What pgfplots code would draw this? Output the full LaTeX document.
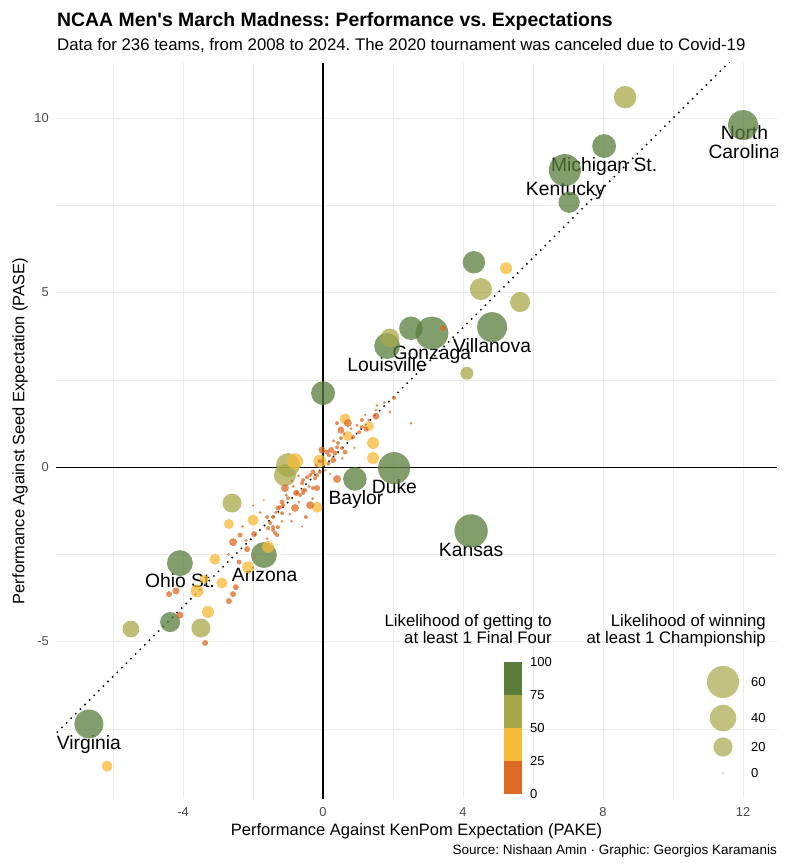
\documentclass[border=0pt]{standalone}
\usepackage{pgfplots}
\pgfplotsset{compat=1.18}
\usepackage{pgfplotstable}
\usepackage{fontspec}
\setmainfont{Liberation Sans}
\frenchspacing
\definecolor{cgreen}{HTML}{5A7D3C}
\definecolor{colive}{HTML}{A8A84A}
\definecolor{cyellow}{HTML}{F5BA36}
\definecolor{corange}{HTML}{DC6A24}
\definecolor{gridc}{HTML}{EBEBEB}
\definecolor{tickc}{HTML}{4D4D4D}

\pgfplotstableread{
x y p
12.00 9.80 52
6.91 8.51 60
8.03 9.20 32
7.03 7.59 25
4.31 5.87 28
4.83 4.01 52
2.51 3.98 31
3.11 3.84 63
1.83 3.47 38
0.00 2.12 32
2.03 -0.03 60
0.91 -0.34 31
4.23 -1.83 65
-1.69 -2.52 38
-4.09 -2.75 38
-4.37 -4.44 22
-6.69 -7.36 48
}\greendata

\pgfplotstableread{
x y p
8.63 10.60 28
4.51 5.10 27
5.63 4.73 22
1.91 3.70 19.5
4.11 2.69 8.4
-1.00 0.06 32
-1.09 -0.23 27
-2.60 -1.03 19.5
-3.49 -4.61 19.5
-5.49 -4.64 15
}\olivedata

\pgfplotstableread{
x y p
5.23 5.70 7
0.63 1.38 5.7
0.71 0.89 4.5
1.31 1.17 4.5
1.43 0.69 7
1.43 0.26 7
-0.09 0.17 8.4
-0.80 0.17 13.4
-0.17 -1.15 5.7
-2.00 -1.52 5.7
-2.69 -1.63 4.5
-1.57 -2.29 7
-3.09 -2.64 5.7
-2.14 -2.87 7
-2.89 -3.32 5.7
-3.40 -3.21 3.5
-3.60 -3.55 8.4
-3.29 -4.15 7
-6.17 -8.57 5.7
}\yellowdata

\pgfplotstableread{
x y p
3.43 3.98 1.25
0.71 1.26 2.6
0.51 1.06 1.9
1.51 1.46 1.9
2.03 1.98 0.37
1.91 1.58 0.13
2.51 1.26 0.13
0.40 -0.34 2.6
1.23 1.09 0.74
0.23 0.49 1.25
0.11 0.43 0.74
0.34 0.40 0.74
0.17 0.34 0.37
0.40 0.57 0.37
0.54 0.54 0.37
0.63 0.43 0.74
-0.09 0.17 0.37
1.11 1.35 0.37
1.11 1.15 0.37
0.86 0.86 0.37
1.03 1.00 0.37
-0.17 -0.60 1.25
-1.09 -0.60 2.6
-0.77 -0.74 1.25
-0.37 -1.09 2.6
-0.80 -1.17 2.6
-0.49 -1.43 0.37
-0.57 -0.37 0.37
-0.60 -0.46 0.37
-0.37 -0.23 0.37
-0.29 -0.14 0.74
-0.46 -0.29 0.37
-0.23 -0.32 0.37
-0.57 -0.66 0.37
-0.66 -0.80 0.37
-1.17 -1.00 0.74
-1.29 -1.17 0.74
-1.17 -1.32 0.37
-1.43 -1.72 0.37
-1.37 -1.89 0.37
-2.57 -2.15 2.6
-2.37 -1.95 0.74
-1.97 -1.92 1.25
-2.17 -2.35 1.25
-2.40 -2.72 0.74
-1.60 -1.43 0.37
-1.57 -1.75 0.37
-2.49 -3.44 1.25
-2.57 -3.64 1.25
-2.69 -3.84 1.25
-4.20 -3.55 1.9
-4.40 -3.64 1.25
-4.09 -4.24 1.9
-3.37 -5.04 1.25
-1.69 -0.95 0.02
-1.43 -1.80 0.37
-1.51 -1.60 0.37
-1.29 -1.72 0.37
-1.31 -1.95 0.37
-1.14 -1.09 0.37
-0.29 -0.60 0.37
-0.57 -0.74 0.37
-1.17 -1.55 0.13
-0.03 0.49 1.9
0.29 0.20 1.25
-0.09 -0.14 0.37
-0.17 -0.23 0.37
-0.51 -0.66 0.37
-0.74 -0.72 0.37
-1.00 -0.89 0.37
-1.23 -1.15 0.37
-1.43 -1.43 0.37
1.54 1.77 0.13
1.51 1.63 0.13
0.40 1.26 0.37
0.51 0.83 0.37
0.43 0.69 0.37
0.06 -0.09 0.13
0.20 -0.20 0.05
-0.89 -0.40 0.13
-0.95 -1.35 0.13
-0.69 -1.00 0.13
-2.00 -1.10 0.05
-2.30 -1.70 0.13
0.90 0.55 0.05
1.20 1.50 0.05
-0.60 -1.70 0.05
-1.95 -2.60 0.05
0.60 0.95 0.2
0.97 1.20 0.2
0.80 1.10 0.13
1.30 1.35 0.13
0.15 0.10 0.37
0.30 0.75 0.2
-0.20 0.05 0.2
-0.40 -0.55 0.2
-0.85 -0.55 0.2
-0.70 -0.25 0.13
-1.05 -0.80 0.2
-1.35 -1.30 0.2
-1.60 -2.05 0.13
-1.80 -1.30 0.13
-0.90 -1.55 0.13
-0.30 -0.90 0.2
0.55 0.25 0.13
1.75 1.85 0.13
-2.20 -2.10 0.2
-2.70 -2.50 0.13
}\orangedata

\pgfplotstableread{
x y p
0 117 60
0 81 40
0 52 20
0 26 0
}\sizelegend

\pgfplotsset{
  bubble/.style 2 args={scatter, only marks, mark=*, point meta=\thisrow{p},
    visualization depends on={0.8+1.97*sqrt(\thisrow{p}) \as \rad},
    scatter/@pre marker code/.code={\scope[mark size=\rad, fill=#1, fill opacity=#2, draw opacity=0]},
    scatter/@post marker code/.code={\endscope}},
}

\newcommand\teamfont{\fontsize{19.3}{20}\selectfont}
\newcommand\legfont{\fontsize{16.7}{18}\selectfont}

\begin{document}
\begin{tikzpicture}
\path[use as bounding box] (-56pt,-67pt) rectangle (747pt,799pt);
\begin{axis}[
  at={(0pt,0pt)}, anchor=south west,
  scale only axis, width=721pt, height=736pt,
  xmin=-7.63, xmax=12.97, ymin=-9.51, ymax=11.58,
  xtick={-4,0,4,8,12}, xticklabels={-4,0,4,8,12},
  minor xtick={-6,-2,2,6,10},
  ytick={-5,0,5,10}, yticklabels={-5,0,5,10},
  minor ytick={-7.5,-2.5,2.5,7.5},
  grid=both,
  major grid style={draw=gridc, line width=1pt},
  minor grid style={draw=gridc, line width=0.6pt},
  axis line style={draw=none},
  major tick length=0pt, minor tick length=0pt,
  tick label style={font=\fontsize{12.9}{14}\selectfont, text=tickc, inner sep=0pt},
  xticklabel style={anchor=center, yshift=-13pt},
  yticklabel style={anchor=east, xshift=-7pt},
  xlabel={Performance Against KenPom Expectation (PAKE)},
  ylabel={Performance Against Seed Expectation (PASE)},
  every axis x label/.style={at={(axis description cs:0.5,0)}, yshift=-32pt, anchor=center, font=\fontsize{16.5}{18}\selectfont, inner sep=0pt},
  every axis y label/.style={at={(axis description cs:0,0.5)}, xshift=-36pt, rotate=90, anchor=center, font=\fontsize{16.5}{18}\selectfont, inner sep=0pt},
  clip=true,
]
\addplot[black, line width=1.2pt] coordinates {(0,-9.51) (0,11.58)};
\addplot[black, line width=1.2pt] coordinates {(-7.63,0) (12.97,0)};
\addplot[black, line width=1.5pt, dash pattern=on 1.5pt off 5pt] coordinates {(-8,-8) (12.5,12.5)};

\addplot[bubble={cgreen}{0.75}] table[x=x,y=y] {\greendata};
\addplot[bubble={colive}{0.75}] table[x=x,y=y] {\olivedata};
\addplot[bubble={cyellow}{0.75}] table[x=x,y=y] {\yellowdata};
\addplot[bubble={corange}{0.75}] table[x=x,y=y] {\orangedata};

\node[anchor=base, font=\teamfont, inner sep=0pt] at (axis cs:12.04,9.40) {North};
\node[anchor=base, font=\teamfont, inner sep=0pt] at (axis cs:12.04,8.83) {Carolina};
\node[anchor=base, font=\teamfont, inner sep=0pt] at (axis cs:8.03,8.48) {Michigan St.};
\node[anchor=base, font=\teamfont, inner sep=0pt] at (axis cs:6.93,7.79) {Kentucky};
\node[anchor=base, font=\teamfont, inner sep=0pt] at (axis cs:3.11,3.07) {Gonzaga};
\node[anchor=base, font=\teamfont, inner sep=0pt] at (axis cs:4.83,3.27) {Villanova};
\node[anchor=base, font=\teamfont, inner sep=0pt] at (axis cs:1.83,2.75) {Louisville};
\node[anchor=base, font=\teamfont, inner sep=0pt] at (axis cs:2.04,-0.77) {Duke};
\node[anchor=base, font=\teamfont, inner sep=0pt] at (axis cs:0.94,-1.06) {Baylor};
\node[anchor=base, font=\teamfont, inner sep=0pt] at (axis cs:4.23,-2.55) {Kansas};
\node[anchor=base, font=\teamfont, inner sep=0pt] at (axis cs:-4.09,-3.44) {Ohio St.};
\node[anchor=base, font=\teamfont, inner sep=0pt] at (axis cs:-1.67,-3.27) {Arizona};
\node[anchor=base, font=\teamfont, inner sep=0pt] at (axis cs:-6.69,-8.08) {Virginia};
\end{axis}

% colour legend
\begin{axis}[
  at={(448pt,5pt)}, anchor=south west,
  scale only axis, width=18pt, height=132pt,
  xmin=0, xmax=1, ymin=0, ymax=100,
  ybar stacked, bar width=18pt,
  axis line style={draw=none},
  xtick=\empty, ytick={0,25,50,75,100}, yticklabels={0,25,50,75,100},
  major tick length=0pt,
  yticklabel pos=right,
  yticklabel style={font=\fontsize{13}{14}\selectfont, anchor=west, xshift=8pt, inner sep=0pt},
]
\addplot[fill=corange, draw=none] coordinates {(0.5,25)};
\addplot[fill=cyellow, draw=none] coordinates {(0.5,25)};
\addplot[fill=colive, draw=none] coordinates {(0.5,25)};
\addplot[fill=cgreen, draw=none] coordinates {(0.5,25)};
\end{axis}

% size legend
\begin{axis}[
  at={(647pt,0pt)}, anchor=south west,
  scale only axis, width=40pt, height=140pt,
  xmin=-1, xmax=1, ymin=0, ymax=140,
  axis line style={draw=none},
  xtick=\empty, ytick={26,52,81,117}, yticklabels={0,20,40,60},
  major tick length=0pt,
  yticklabel pos=right,
  yticklabel style={font=\fontsize{13}{14}\selectfont, anchor=west, xshift=8pt, inner sep=0pt},
  clip=false,
]
\addplot[bubble={colive}{0.7}] table[x=x,y=y] {\sizelegend};
\end{axis}

\node[anchor=base east, font=\legfont, inner sep=0pt] at (496pt,172pt) {Likelihood of getting to};
\node[anchor=base east, font=\legfont, inner sep=0pt] at (496pt,155pt) {at least 1 Final Four};
\node[anchor=base east, font=\legfont, inner sep=0pt] at (710pt,172pt) {Likelihood of winning};
\node[anchor=base east, font=\legfont, inner sep=0pt] at (710pt,155pt) {at least 1 Championship};

\node[anchor=base west, font=\fontsize{19.4}{22}\selectfont\bfseries, inner sep=0pt] at (1pt,772pt) {NCAA Men\textquotesingle s March Madness: Performance vs. Expectations};
\node[anchor=base west, font=\fontsize{16.8}{19}\selectfont, inner sep=0pt] at (1pt,748pt) {Data for 236 teams, from 2008 to 2024. The 2020 tournament was canceled due to Covid-19};
\node[anchor=base east, font=\fontsize{13.5}{15}\selectfont, inner sep=0pt] at (721pt,-56pt) {Source: Nishaan Amin · Graphic: Georgios Karamanis};
\end{tikzpicture}
\end{document}
